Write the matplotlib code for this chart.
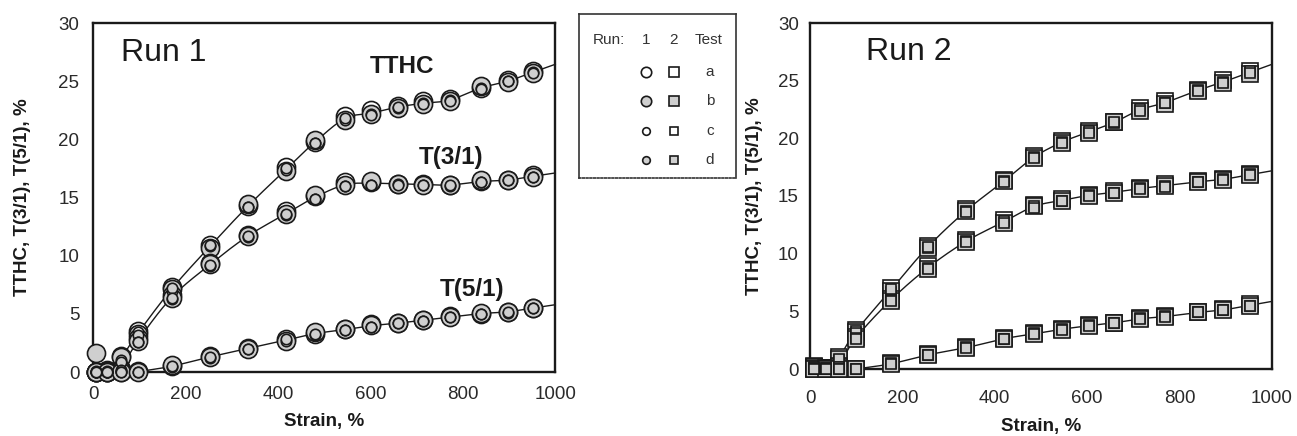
import numpy as np
import matplotlib
matplotlib.use("Agg")
import matplotlib.pyplot as plt

plt.rcParams['font.family'] = ['Liberation Sans', 'DejaVu Sans']

# ---------------- data ----------------
tests = ['a', 'b', 'c', 'd']

run1_strain = [5, 30, 60, 97, 170, 253, 335, 418, 480, 545, 601, 659, 714, 771, 840, 897, 952]
run2_strain = [8, 35, 62, 99, 175, 255, 338, 420, 485, 546, 603, 658, 714, 769, 839, 895, 952]

# rows: tests a, b, c, d
run1_tthc = [
    [0.0, 0.2, 1.4, 3.5, 7.3, 10.9, 14.3, 17.6, 19.8, 22.0, 22.5, 22.9, 23.3, 23.5, 24.4, 25.1, 25.9],
    [1.6, 0.1, 1.3, 3.3, 7.1, 10.7, 14.4, 17.3, 19.9, 21.7, 22.2, 22.7, 23.0, 23.3, 24.6, 24.9, 25.7],
    [0.1, 0.0, 1.0, 3.4, 7.0, 10.8, 14.2, 17.4, 19.7, 21.7, 22.2, 22.7, 23.1, 23.4, 24.4, 25.0, 25.8],
    [0.0, 0.1, 0.9, 3.2, 7.2, 10.9, 14.2, 17.5, 19.7, 21.8, 22.1, 22.8, 23.0, 23.3, 24.3, 25.0, 25.7],
]
run1_t31 = [
    [0.0, 0.0, 0.3, 2.9, 6.6, 9.4, 11.8, 13.8, 15.1, 16.3, 16.3, 16.2, 16.2, 16.1, 16.4, 16.5, 16.9],
    [0.0, 0.0, 0.2, 2.7, 6.4, 9.3, 11.7, 13.6, 15.2, 16.1, 16.4, 16.2, 16.1, 16.1, 16.5, 16.5, 16.8],
    [0.0, 0.0, 0.1, 2.6, 6.3, 9.1, 11.6, 13.5, 14.9, 16.0, 16.1, 16.2, 16.1, 16.0, 16.3, 16.5, 16.8],
    [0.0, 0.0, 0.2, 2.6, 6.4, 9.2, 11.7, 13.6, 14.9, 16.0, 16.1, 16.1, 16.1, 16.1, 16.3, 16.5, 16.8],
]
run1_t51 = [
    [0.0, 0.0, 0.0, 0.1, 0.5, 1.4, 2.1, 2.8, 3.3, 3.7, 4.1, 4.2, 4.5, 4.8, 5.0, 5.2, 5.5],
    [0.0, 0.0, 0.0, 0.0, 0.6, 1.3, 2.0, 2.7, 3.4, 3.7, 4.0, 4.2, 4.5, 4.7, 5.1, 5.2, 5.5],
    [0.0, 0.0, 0.0, 0.0, 0.4, 1.2, 2.0, 2.7, 3.2, 3.6, 3.9, 4.2, 4.4, 4.7, 5.0, 5.1, 5.5],
    [0.0, 0.0, 0.0, 0.0, 0.5, 1.3, 2.0, 2.8, 3.3, 3.6, 3.9, 4.2, 4.4, 4.7, 5.0, 5.2, 5.5],
]

run2_tthc = [
    [0.3, 0.1, 1.0, 3.4, 7.0, 10.7, 13.9, 16.4, 18.5, 19.8, 20.6, 21.4, 22.6, 23.2, 24.2, 25.1, 25.8],
    [0.2, 0.1, 0.9, 3.2, 6.8, 10.5, 13.7, 16.3, 18.3, 19.6, 20.5, 21.4, 22.4, 23.0, 24.1, 24.8, 25.6],
    [0.1, 0.0, 0.8, 3.3, 6.7, 10.5, 13.7, 16.3, 18.4, 19.7, 20.6, 21.3, 22.5, 23.1, 24.2, 24.9, 25.8],
    [0.2, 0.1, 0.9, 3.1, 6.9, 10.6, 13.6, 16.2, 18.3, 19.6, 20.5, 21.4, 22.4, 23.1, 24.1, 24.8, 25.7],
]
run2_t31 = [
    [0.1, 0.0, 0.3, 2.8, 6.1, 8.9, 11.2, 12.9, 14.2, 14.7, 15.1, 15.4, 15.7, 16.0, 16.3, 16.5, 16.9],
    [0.2, 0.1, 0.2, 2.6, 5.9, 8.7, 11.0, 12.7, 14.1, 14.6, 15.0, 15.3, 15.6, 15.9, 16.2, 16.4, 16.8],
    [0.0, 0.0, 0.2, 2.7, 6.0, 8.8, 11.1, 12.8, 14.1, 14.6, 15.1, 15.3, 15.7, 15.9, 16.2, 16.5, 16.9],
    [0.1, 0.1, 0.2, 2.6, 5.9, 8.7, 11.0, 12.7, 14.0, 14.6, 15.0, 15.3, 15.6, 15.8, 16.2, 16.4, 16.8],
]
run2_t51 = [
    [0.0, 0.0, 0.0, 0.0, 0.5, 1.3, 1.9, 2.7, 3.1, 3.5, 3.8, 4.0, 4.4, 4.6, 4.9, 5.2, 5.6],
    [0.0, 0.0, 0.0, 0.0, 0.4, 1.2, 1.8, 2.6, 3.0, 3.4, 3.7, 4.0, 4.3, 4.5, 4.9, 5.1, 5.5],
    [0.0, 0.0, 0.0, 0.0, 0.5, 1.2, 1.9, 2.6, 3.1, 3.5, 3.8, 4.0, 4.4, 4.6, 4.9, 5.1, 5.5],
    [0.0, 0.0, 0.0, 0.0, 0.4, 1.2, 1.8, 2.6, 3.0, 3.4, 3.7, 4.0, 4.3, 4.5, 4.9, 5.1, 5.5],
]

series_labels = ['TTHC', 'T(3/1)', 'T(5/1)']
y_ticks = [0, 5, 10, 15, 20, 25, 30]
x_ticks = [0, 200, 400, 600, 800, 1000]

# ---------------- styling ----------------
INK = '#1a1a1a'
FILL = '#cfcfcf'
BIG, SMALL = 13, 7.5
marker_style = {
    'a': dict(size=BIG, face='white'),
    'b': dict(size=BIG, face=FILL),
    'c': dict(size=SMALL, face='white'),
    'd': dict(size=SMALL, face=FILL),
}


def smooth_curve(x, y, x_end, n=24):
    """Catmull-Rom curve through (x, y), continued straight to x_end."""
    x = np.asarray(x, float)
    y = np.asarray(y, float)
    px = np.concatenate([[2 * x[0] - x[1]], x, [2 * x[-1] - x[-2]]])
    py = np.concatenate([[2 * y[0] - y[1]], y, [2 * y[-1] - y[-2]]])
    t = np.linspace(0, 1, n)
    xs, ys = [], []
    for i in range(1, len(px) - 2):
        for arr, out in ((px, xs), (py, ys)):
            p0, p1, p2, p3 = arr[i - 1], arr[i], arr[i + 1], arr[i + 2]
            out.extend(0.5 * ((2 * p1) + (-p0 + p2) * t
                              + (2 * p0 - 5 * p1 + 4 * p2 - p3) * t ** 2
                              + (-p0 + 3 * p1 - 3 * p2 + p3) * t ** 3))
    slope = (y[-1] - y[-2]) / (x[-1] - x[-2])
    xs.append(x_end)
    ys.append(y[-1] + slope * (x_end - x[-1]))
    return np.array(xs), np.array(ys)


def draw_run(ax, strain, groups, marker, starts):
    strain = np.asarray(strain, float)
    for vals, start in zip(groups, starts):
        vals = np.asarray(vals, float)
        mean = vals.mean(axis=0)
        cx, cy = smooth_curve(strain[start:], mean[start:], 1000)
        ax.plot(cx, cy, color=INK, lw=1.0, zorder=2, clip_on=False)
    for order in (('a', 'b'), ('c', 'd')):
        for vals in groups:
            for k in order:
                st = marker_style[k]
                ax.plot(strain, vals[tests.index(k)], ls='none', marker=marker,
                        ms=st['size'] if marker == 'o' else st['size'] * 0.92,
                        mfc=st['face'], mec=INK, mew=1.2, zorder=3, clip_on=False)


def style_axes(ax, xpad, ypad, ylabel_x):
    ax.set_xlim(0, 1000)
    ax.set_ylim(0, 30)
    ax.set_xticks(x_ticks)
    ax.set_yticks(y_ticks)
    ax.tick_params(length=0, labelsize=13.5, colors='#2a2a2a')
    ax.tick_params(axis='x', pad=xpad)
    ax.tick_params(axis='y', pad=ypad)
    for sp in ax.spines.values():
        sp.set_linewidth(1.7)
        sp.set_color(INK)
    ax.set_ylabel('TTHC, T(3/1), T(5/1), %', fontsize=13.5, fontweight='bold',
                  color=INK)
    ax.yaxis.set_label_coords(ylabel_x, 0.5)


fig = plt.figure(figsize=(12.97, 4.36), dpi=100)
W, H = 1297, 436

ax1 = fig.add_axes([93.3 / W, 1 - 372 / H, 462 / W, (372 - 23) / H])
ax2 = fig.add_axes([810 / W, 1 - 369 / H, 462 / W, (369 - 23) / H])

draw_run(ax1, run1_strain, [run1_tthc, run1_t31, run1_t51], 'o', [2, 2, 3])
draw_run(ax2, run2_strain, [run2_tthc, run2_t31, run2_t51], 's', [2, 2, 3])

style_axes(ax1, 10, 10, -0.135)
style_axes(ax2, 15, 8, -0.101)
ax1.set_xlabel('Strain, %', fontsize=13.5, fontweight='bold', color=INK, labelpad=7)
ax2.set_xlabel('Strain, %', fontsize=13.5, fontweight='bold', color=INK, labelpad=8)

ax1.text(60, 26.7, 'Run 1', fontsize=23, color=INK, va='baseline')
ax2.text(121, 26.8, 'Run 2', fontsize=23, color=INK, va='baseline')
label_pos = [(599, 25.7), (704, 17.9), (749, 6.5)]
for name, (lx, ly) in zip(series_labels, label_pos):
    ax1.text(lx, ly, name, fontsize=17.5, fontweight='bold', color=INK, va='baseline')

# ---------------- key box ----------------
axk = fig.add_axes([579 / W, 1 - 178 / H, (736 - 579) / W, (178 - 14) / H])
axk.set_xlim(0, 157)
axk.set_ylim(164, 0)
axk.set_xticks([])
axk.set_yticks([])
for sp in axk.spines.values():
    sp.set_linewidth(1.2)
    sp.set_color('#333333')
axk.spines['bottom'].set_linestyle((0, (1, 1.2)))

key_font = dict(fontsize=11, color='#333333', va='center', ha='center')
axk.text(14, 26, 'Run:', fontsize=11, color='#333333', va='center', ha='left')
axk.text(67, 26, '1', **key_font)
axk.text(95, 26, '2', **key_font)
axk.text(130, 26, 'Test', **key_font)
key_rows = [58, 87, 117, 146]
for k, ry in zip(tests, key_rows):
    st = marker_style[k]
    ms = 7.5 if st['size'] == BIG else 5.5
    axk.plot([67], [ry], marker='o', ms=ms, mfc=st['face'], mec=INK, mew=1.2, ls='none')
    axk.plot([95], [ry], marker='s', ms=ms, mfc=st['face'], mec=INK, mew=1.2, ls='none')
    axk.text(131, ry, k, **key_font)

fig.savefig('out.png', dpi=100)
